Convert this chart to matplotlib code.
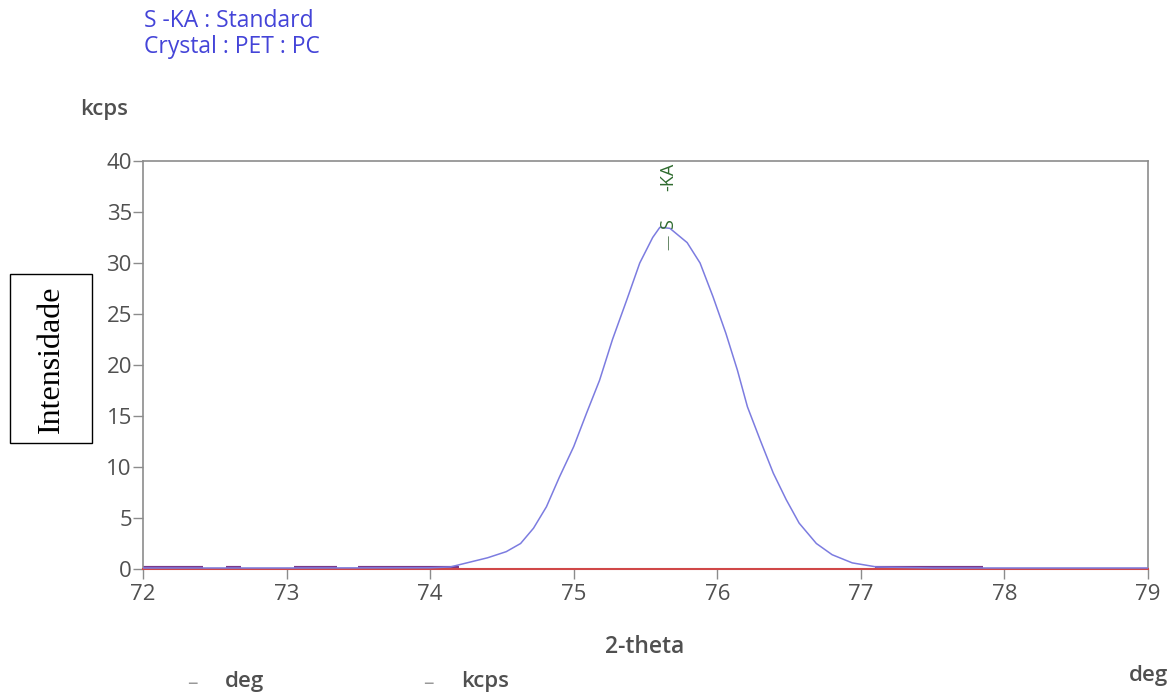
import matplotlib
matplotlib.use("Agg")
import matplotlib.pyplot as plt
from matplotlib.patches import Rectangle

# ---- data ----
angle_deg = [72.0, 73.0, 74.0, 74.14, 74.40, 74.53, 74.63, 74.72, 74.81, 74.90, 75.0,
             75.09, 75.18, 75.27, 75.37, 75.46, 75.55, 75.60, 75.67, 75.79, 75.88,
             75.97, 76.06, 76.14, 76.21, 76.30, 76.39, 76.48, 76.57, 76.69, 76.80,
             76.94, 77.11, 77.5, 78.0, 79.0]
intensity_kcps = [0.1, 0.1, 0.12, 0.2, 1.1, 1.7, 2.5, 4.0, 6.1, 9.0, 12.0,
                  15.3, 18.5, 22.5, 26.4, 30.0, 32.5, 33.5, 33.4, 32.0, 30.0,
                  26.7, 23.1, 19.5, 15.9, 12.6, 9.4, 6.8, 4.5, 2.5, 1.4,
                  0.6, 0.2, 0.1, 0.1, 0.1]
baseline_x = [72.0, 79.0]
baseline_y = [0.0, 0.0]
bg_segments = [(72.0, 72.42), (72.58, 72.68), (73.05, 73.35), (73.5, 74.2), (77.1, 77.85)]
x_ticks = [72, 73, 74, 75, 76, 77, 78, 79]
y_ticks = [0, 5, 10, 15, 20, 25, 30, 35, 40]
peak_element = "S"
peak_line = "-KA"
peak_pos = 75.66

title_lines = ["S -KA : Standard", "Crystal : PET : PC"]

FONT = ["Open Sans", "DejaVu Sans"]
W, H = 1175, 695

fig = plt.figure(figsize=(11.75, 6.95), dpi=100)
ax = fig.add_axes([143 / W, 1 - 569 / H, (1148 - 143) / W, (569 - 161) / H])

ax.set_xlim(72, 79)
ax.set_ylim(0, 40)

for s0, s1 in bg_segments:
    ax.plot([s0, s1], [0.05, 0.05], color="#7a3a8a", lw=3.0, solid_capstyle="butt", zorder=2)
ax.plot(baseline_x, baseline_y, color="#d04848", lw=1.5, zorder=3, clip_on=False)
ax.plot(angle_deg, intensity_kcps, color="#7c7ce0", lw=1.1, zorder=4)

# peak marker label (rotated, reading bottom to top)
green = "#2e6b2e"
ax.text(peak_pos, 39.85, peak_line, rotation=90, ha="center", va="top",
        color=green, fontsize=13, family=FONT, zorder=5)
ax.text(peak_pos, 33.8, peak_element, rotation=90, ha="center", va="center",
        color=green, fontsize=13, family=FONT, zorder=5)
ax.text(peak_pos, 32.0, "\u2014", rotation=90, ha="center", va="center",
        color="#6a8a6a", fontsize=11, family=FONT, zorder=5)

for sp in ax.spines.values():
    sp.set_color("#8c8c8c")
    sp.set_linewidth(1.2)

ax.set_xticks(x_ticks)
ax.set_yticks(y_ticks)
ax.tick_params(axis="both", colors="#8c8c8c", labelcolor="#505050", labelsize=16,
               length=7, width=1.0, direction="out")
for lab in ax.get_xticklabels() + ax.get_yticklabels():
    lab.set_family(FONT)
ax.tick_params(axis="y", pad=1)
ax.tick_params(axis="x", pad=4)

# header texts
fig.text(144 / W, 1 - 21 / H, title_lines[0], color="#4444d8", fontsize=16.5,
         family=FONT, va="center", ha="left")
fig.text(144 / W, 1 - 47 / H, title_lines[1], color="#4444d8", fontsize=16.5,
         family=FONT, va="center", ha="left")
fig.text(80 / W, 1 - 110 / H, "kcps", color="#505050", fontsize=16,
         family=FONT, va="center", ha="left", fontweight="semibold")

# axis labels
fig.text(645 / W, 1 - 647 / H, "2-theta", color="#505050", fontsize=16.5,
         family=FONT, va="center", ha="center", fontweight="semibold")
fig.text(1148 / W, 1 - 676 / H, "deg", color="#505050", fontsize=16,
         family=FONT, va="center", ha="center", fontweight="semibold")

# bottom legend
fig.text(187 / W, 1 - 684 / H, "\u2013", color="#999999", fontsize=15, family=FONT,
         va="center", ha="left")
fig.text(225 / W, 1 - 681 / H, "deg", color="#505050", fontsize=16, family=FONT,
         va="center", ha="left", fontweight="semibold")
fig.text(423 / W, 1 - 684 / H, "\u2013", color="#999999", fontsize=15, family=FONT,
         va="center", ha="left")
fig.text(461 / W, 1 - 681 / H, "kcps", color="#505050", fontsize=16, family=FONT,
         va="center", ha="left", fontweight="semibold")

# boxed y label
fig.patches.append(Rectangle((10 / W, 1 - 443 / H), 82 / W, (443 - 274) / H,
                             transform=fig.transFigure, facecolor="white",
                             edgecolor="black", lw=1.0, zorder=5))
fig.text(51 / W, 1 - 359 / H, "Intensidade", rotation=90, ha="center", va="center",
         fontsize=23, family=["Liberation Serif", "DejaVu Serif"], color="black", zorder=6)

fig.savefig("out.png", dpi=100)
